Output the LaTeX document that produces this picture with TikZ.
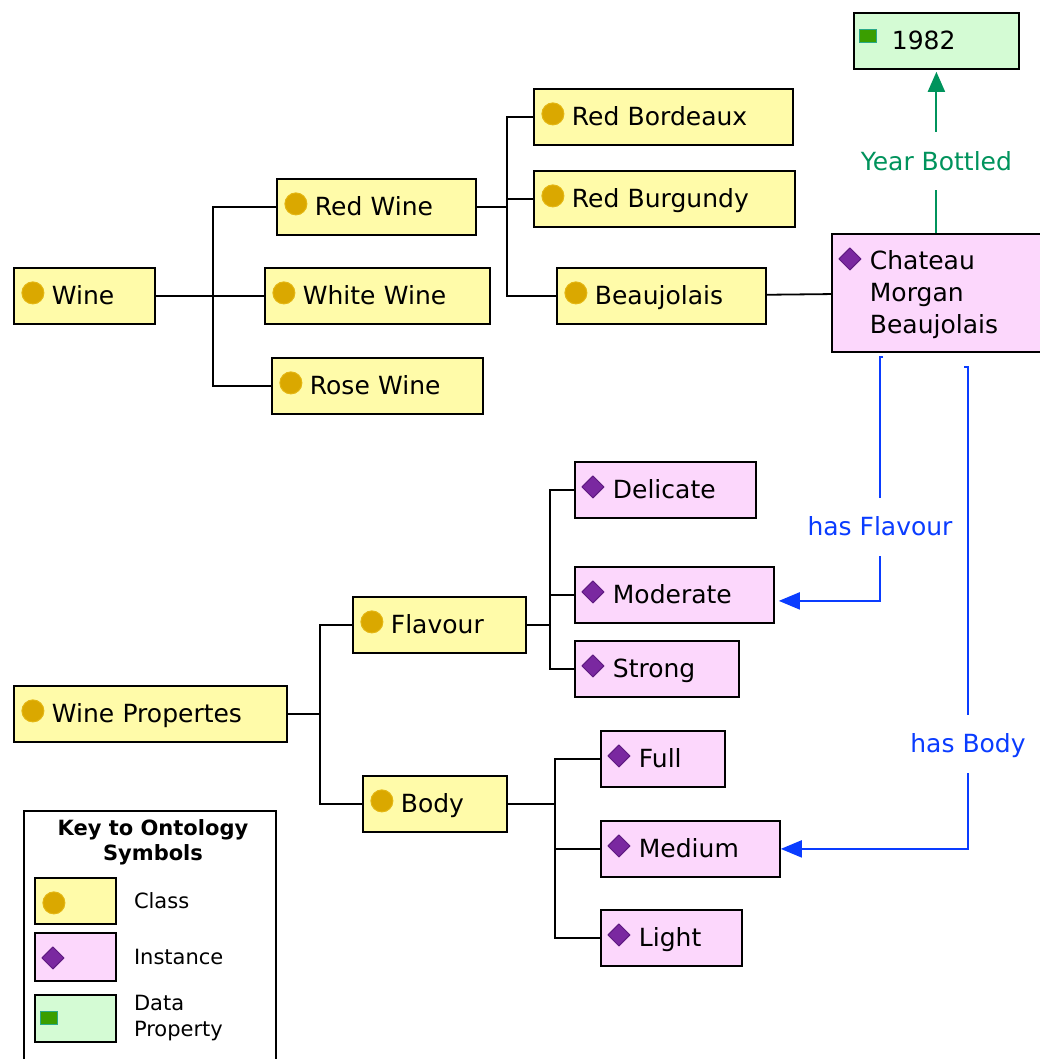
\documentclass[tikz,border=0pt]{standalone}
\usepackage{fontspec}
\setmainfont{DejaVu Sans}
\usetikzlibrary{arrows.meta}

\definecolor{classfill}{HTML}{FFFBA9}
\definecolor{classdot}{HTML}{DAA800}
\definecolor{classrim}{HTML}{E4B612}
\definecolor{instfill}{HTML}{FCD7FC}
\definecolor{instdot}{HTML}{7A28A0}
\definecolor{instrim}{HTML}{5E1A80}
\definecolor{datafill}{HTML}{D4FBD4}
\definecolor{datadot}{HTML}{3A9E00}
\definecolor{datarim}{HTML}{2AA889}
\definecolor{yeargreen}{HTML}{00935C}
\definecolor{hasblue}{HTML}{0A3CFF}

\tikzset{
  onto/.style={draw=black, line width=1.8pt, anchor=north west, inner sep=0pt,
    minimum height=56pt, align=left, text height=17pt, text depth=0pt,
    font=\fontsize{25}{32}\selectfont, execute at begin node={\leftskip=38pt\relax}},
  classbox/.style={onto, fill=classfill, text width=#1,
    path picture={\filldraw[fill=classdot, draw=classrim, line width=1pt]
      ([shift={(19pt,-25pt)}]path picture bounding box.north west) circle (11pt);}},
  instbox/.style={onto, fill=instfill, text width=#1,
    path picture={\filldraw[fill=instdot, draw=instrim, line width=1pt, line join=round]
      ([shift={(7pt,-25pt)}]path picture bounding box.north west)
      -- ++(11pt,11pt) -- ++(11pt,-11pt) -- ++(-11pt,-11pt) -- cycle;}},
  databox/.style={onto, fill=datafill, text width=#1,
    path picture={\filldraw[fill=datadot, draw=datarim, line width=1pt]
      ([shift={(6pt,-17pt)}]path picture bounding box.north west) rectangle ++(17pt,-13pt);}},
  branch/.style={line width=1.8pt},
  haslink/.style={color=hasblue, line width=2pt, -{Triangle[length=21pt,width=17pt]}},
  yearlink/.style={color=yeargreen, line width=2pt, -{Triangle[length=20pt,width=17pt]}},
  rel/.style={fill=white, inner xsep=2pt, inner ysep=0pt, minimum height=58pt,
    text height=18pt, text depth=0pt, font=\fontsize{25}{30}\selectfont},
  keytext/.style={anchor=west, inner sep=0pt, align=left, font=\fontsize{21}{26}\selectfont},
}

\begin{document}
\begin{tikzpicture}[x=1pt, y=-1pt]
  \useasboundingbox (0,0) rectangle (1039,1059);

  % Wine classes
  \node[classbox=141pt] (wine) at (13,267) {Wine};
  \node[classbox=199pt] (redwine) at (276,178) {Red Wine};
  \node[classbox=225pt] (whitewine) at (264,267) {White Wine};
  \node[classbox=211pt] (rosewine) at (271,357) {Rose Wine};
  \node[classbox=259pt] (redbord) at (533,88) {Red Bordeaux};
  \node[classbox=261pt] (redburg) at (533,170) {Red Burgundy};
  \node[classbox=209pt] (beauj) at (556,267) {Beaujolais};

  % the wine itself and its year
  \node[instbox=212pt, minimum height=118pt, text height=19pt, text depth=66pt]
    (chateau) at (831,233) {Chateau\\Morgan\\Beaujolais};
  \node[databox=165pt] (y1982) at (853,12) {1982};

  % Wine properties
  \node[classbox=273pt] (wineprop) at (13,685) {Wine Propertes};
  \node[classbox=173pt] (flavour) at (352,596) {Flavour};
  \node[classbox=144pt] (body) at (362,775) {Body};
  \node[instbox=181pt] (delicate) at (574,461) {Delicate};
  \node[instbox=199pt] (moderate) at (574,566) {Moderate};
  \node[instbox=164pt] (strong) at (574,640) {Strong};
  \node[instbox=124pt] (full) at (600,730) {Full};
  \node[instbox=179pt] (medium) at (600,820) {Medium};
  \node[instbox=141pt] (light) at (600,909) {Light};

  % tree lines
  \draw[branch] (wine.east) -- ++(57,0) coordinate (wj);
  \draw[branch] (wj) |- (redwine.west);
  \draw[branch] (wj) -- (whitewine.west);
  \draw[branch] (wj) |- (rosewine.west);

  \draw[branch] (redwine.east) -- ++(30,0) coordinate (rj);
  \draw[branch] (rj) |- (redbord.west);
  \draw[branch] (rj) |- (redburg.west);
  \draw[branch] (rj) |- (beauj.west);
  \draw[branch] (beauj) -- (chateau);

  \draw[branch] (wineprop.east) -- ++(32,0) coordinate (pj);
  \draw[branch] (pj) |- (flavour.west);
  \draw[branch] (pj) |- (body.west);

  \draw[branch] (flavour.east) -- ++(23,0) coordinate (fj);
  \draw[branch] (fj) |- (delicate.west);
  \draw[branch] (fj) |- (moderate.west);
  \draw[branch] (fj) |- (strong.west);

  \draw[branch] (body.east) -- ++(47,0) coordinate (bj);
  \draw[branch] (bj) |- (full.west);
  \draw[branch] (bj) |- (medium.west);
  \draw[branch] (bj) |- (light.west);

  % properties of the wine
  \draw[yearlink, shorten >=2pt] (y1982.south |- chateau.north)
    -- node[rel, pos=0.44] {Year Bottled} (y1982.south);

  \coordinate (flvtop) at (883,357);
  \draw[haslink, shorten >=4pt] (flvtop) -- ++(-3,0)
    |- node[rel, pos=0.348] {has Flavour} ([yshift=-6pt]moderate.east);

  \coordinate (bdytop) at (964,367);
  \draw[haslink] (bdytop) -- ++(4,0)
    |- node[rel, pos=0.391] {has Body} (medium.east);

  % key
  \node[draw=black, line width=1.8pt, fill=white, anchor=north west,
    minimum width=252pt, minimum height=262pt] (key) at (23,810) {};
  \node[font=\bfseries\fontsize{21}{25}\selectfont, align=center, inner sep=0pt]
    (keyhead) at (153,842) {Key to Ontology\\Symbols};
  \node[classbox=81pt, minimum height=46pt] (clskey) at (34,877) {};
  \node[instbox=81pt, minimum height=48pt] (instkey) at (34,932) {};
  \node[databox=81pt, minimum height=47pt] (datakey) at (34,994) {};
  \node[keytext] (clslbl) at ([xshift=17pt]clskey.east) {Class};
  \node[keytext] (instlbl) at ([xshift=17pt]instkey.east) {Instance};
  \node[keytext] (datalbl) at ([xshift=17pt]datakey.east) {Data\\Property};
\end{tikzpicture}
\end{document}
